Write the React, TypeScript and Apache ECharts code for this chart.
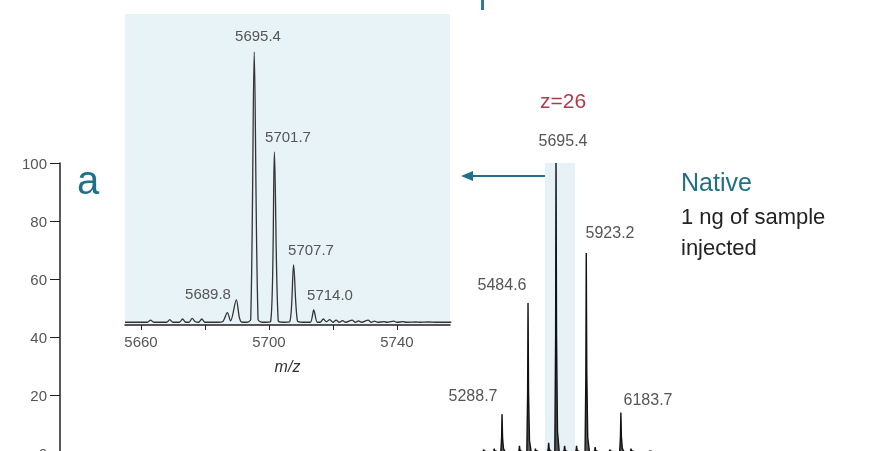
import React, { useEffect, useRef } from "react";
import * as echarts from "echarts";

// main spectrum peaks: [m/z, relative intensity]
const mainPeaks: [number, number][] = [
  [5150, 1.2], [5230, 1.5], [5288.7, 13.4], [5420, 2.5], [5484.6, 51.7], [5540, 1.5],
  [5640, 3.5], [5695.4, 100], [5760, 2.5], [5850, 2.5], [5923.2, 69], [5990, 2],
  [6100, 1.2], [6183.7, 14], [6260, 1.5], [6400, 0.8],
];
const mainLabels: [string, number, number][] = [
  ["5288.7", 473, 395], ["5484.6", 502, 284], ["5695.4", 563, 140], ["5923.2", 610, 232], ["6183.7", 648, 399],
];

// inset profile: [m/z, intensity]
const insetProfile: [number, number][] = [
  [5655, 1], [5660, 1], [5662, 1], [5663, 1.8], [5664, 1], [5668, 1], [5669, 2], [5670, 1], [5672, 1],
  [5673, 2.2], [5674, 1], [5675, 1], [5676, 2.4], [5677, 1.2], [5678, 1], [5679, 2.2], [5680, 1],
  [5681, 1], [5682, 1], [5684, 1], [5685.5, 1.2], [5687.0, 4.5], [5688.0, 1.5], [5689.8, 9.2], [5690.8, 2.5], [5691.6, 1],
  [5693, 1], [5694.3, 2], [5695.4, 100], [5696.6, 2], [5698, 1], [5700.5, 1.2],
  [5701.7, 63.4], [5702.9, 1.5], [5704.5, 1], [5706.5, 1.2], [5707.7, 22], [5708.9, 1.5], [5710.5, 1], [5712.9, 1],
  [5714.0, 5.5], [5715.1, 1], [5716, 1], [5717, 2.2], [5718, 1.2], [5719, 2], [5720, 1], [5721, 1.8],
  [5722, 1], [5723, 1.6], [5724, 1], [5726, 1.8], [5727, 1], [5728, 1.5], [5729, 1], [5731, 1.8],
  [5732, 1], [5733, 1.4], [5734, 1], [5736, 1.2], [5737, 1], [5739, 1.4], [5740, 1], [5742, 1.2],
  [5743, 1], [5746, 1.1], [5747, 1], [5750, 1.1], [5752, 1], [5757, 1],
];
const insetLabels: [string, number, number][] = [
  ["5695.4", 258, 35], ["5701.7", 288, 136], ["5707.7", 311, 249], ["5689.8", 208, 293], ["5714.0", 330, 294],
];
const insetTicks = [5660, 5680, 5700, 5720, 5740];
const insetShownTicks = [5660, 5700, 5740];

export default function App() {
  const ref = useRef<HTMLDivElement>(null);
  useEffect(() => {
    const chart = echarts.init(ref.current!, null, { renderer: "svg" });
    const mainData: [number, number][] = [[5100, 0.3]];
    mainPeaks.forEach(([c, h]) => {
      mainData.push([c - 9, 0.4], [c - 3, h * 0.4], [c, h], [c + 4, h * 0.4], [c + 11, h * 0.07 + 0.6], [c + 24, 0.4]);
    });
    mainData.push([6500, 0.3]);
    const grey = "#555";
    const font = "Helvetica, Arial, 'Liberation Sans', sans-serif";
    const txt = (s: string, x: number, y: number, size: number, fill: string, extra: any = {}) => ({
      type: "text", x, y, style: { text: s, fontSize: size, fill, fontFamily: font, textAlign: "center", textVerticalAlign: "middle", ...extra },
    });
    chart.setOption({
      animation: false,
      grid: [
        { left: 60, right: 0, top: 163, height: 290, outerBoundsMode: "none", containLabel: false },
        { left: 125, width: 325, top: 52, bottom: 126, outerBoundsMode: "none", containLabel: false },
      ],
      xAxis: [
        { type: "value", gridIndex: 0, min: 1960, max: 8075, show: false },
        {
          type: "value", gridIndex: 1, min: 5655, max: 5756.6, interval: 20,
          axisLine: { onZero: false, lineStyle: { color: "#222", width: 1.5 } },
          axisTick: { show: true, length: 5, lineStyle: { color: "#222" }, customValues: insetTicks },
          axisLabel: { customValues: insetShownTicks, formatter: (v: number) => String(v), color: grey, fontSize: 15, fontFamily: font, margin: 9 },
          splitLine: { show: false },
          name: "m/z", nameLocation: "middle", nameGap: 33,
          nameTextStyle: { fontStyle: "italic", fontSize: 16, color: "#333", fontFamily: font },
        },
      ],
      yAxis: [
        {
          type: "value", gridIndex: 0, min: 0, max: 100, interval: 20,
          axisLine: { show: true, lineStyle: { color: "#222", width: 1.5 } },
          axisTick: { show: true, length: 10, lineStyle: { color: "#222" } },
          axisLabel: { color: grey, fontSize: 15, fontFamily: font, margin: 13 },
          splitLine: { show: false },
        },
        { type: "value", gridIndex: 1, min: 0, max: 100, show: false },
      ],
      series: [
        {
          type: "line", xAxisIndex: 0, yAxisIndex: 0, data: mainData, symbol: "none", z: 3,
          lineStyle: { color: "#111", width: 1.4 }, areaStyle: { color: "#111", opacity: 0.7 },
          markArea: { silent: true, itemStyle: { color: "#e6f2f8" }, data: [[{ coord: [5612, 0] }, { coord: [5838, 101.7] }]] },
        },
        {
          type: "line", xAxisIndex: 1, yAxisIndex: 1, data: insetProfile, symbol: "none", z: 3, smooth: 0.3,
          lineStyle: { color: "#333", width: 1.3 },
        },
      ],
      graphic: [
        { type: "rect", shape: { x: 125, y: 14, width: 325, height: 311 }, style: { fill: "#e8f3f8" }, z: -10 },
        { type: "rect", shape: { x: 481, y: 0, width: 3, height: 10 }, style: { fill: "#2a7c93" } },
        ...insetLabels.map(([s, x, y]) => txt(s, x, y, 15, grey)),
        ...mainLabels.map(([s, x, y]) => txt(s, x, y, 16, grey)),
        txt("z=26", 563, 100, 21, "#b23a48"),
        txt("a", 88, 180, 40, "#1f7088"),
        txt("Native", 681, 182, 25, "#1f7088", { textAlign: "left" }),
        txt("1 ng of sample", 681, 216, 22, "#222", { textAlign: "left" }),
        txt("injected", 681, 247, 22, "#222", { textAlign: "left" }),
        { type: "line", shape: { x1: 548, y1: 176, x2: 470, y2: 176 }, style: { stroke: "#1f7088", lineWidth: 2 } },
        { type: "polygon", shape: { points: [[461, 176], [473, 171], [473, 181]] }, style: { fill: "#1f7088" } },
      ],
    });
    return () => chart.dispose();
  }, []);
  return <div ref={ref} style={{ position: "fixed", left: 0, top: 0, width: 872, height: 451 }} />;
}
